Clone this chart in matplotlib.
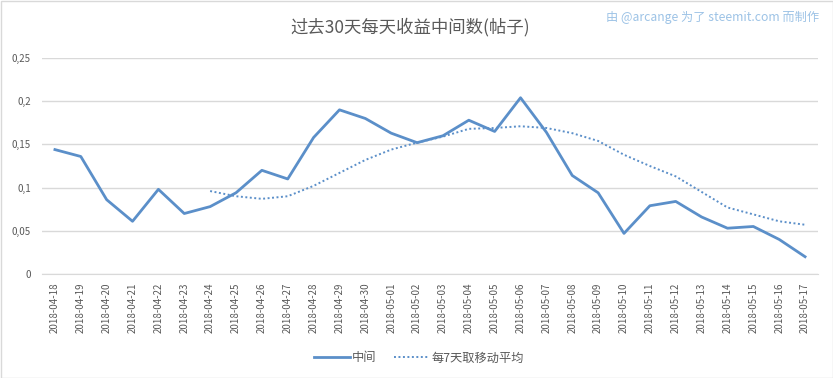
import matplotlib
matplotlib.use("Agg")
import matplotlib.pyplot as plt
from matplotlib.ticker import FixedLocator

plt.rcParams['font.family'] = ['Noto Sans CJK SC', 'DejaVu Sans']

dates = ["2018-04-18", "2018-04-19", "2018-04-20", "2018-04-21", "2018-04-22",
         "2018-04-23", "2018-04-24", "2018-04-25", "2018-04-26", "2018-04-27",
         "2018-04-28", "2018-04-29", "2018-04-30", "2018-05-01", "2018-05-02",
         "2018-05-03", "2018-05-04", "2018-05-05", "2018-05-06", "2018-05-07",
         "2018-05-08", "2018-05-09", "2018-05-10", "2018-05-11", "2018-05-12",
         "2018-05-13", "2018-05-14", "2018-05-15", "2018-05-16", "2018-05-17"]

median = [0.144, 0.136, 0.086, 0.061, 0.098, 0.070, 0.078, 0.094, 0.120, 0.110,
          0.158, 0.190, 0.180, 0.163, 0.152, 0.160, 0.178, 0.165, 0.204, 0.164,
          0.114, 0.094, 0.047, 0.079, 0.084, 0.066, 0.053, 0.055, 0.040, 0.020]

# 7-day moving average, starts at 2018-04-24 (index 6)
ma_start = 6
moving_avg = [0.096, 0.090, 0.087, 0.090, 0.102, 0.117, 0.132, 0.144, 0.152,
              0.159, 0.168, 0.169, 0.171, 0.169, 0.163, 0.154, 0.138, 0.125,
              0.113, 0.095, 0.077, 0.069, 0.061, 0.057]

yticks = [0, 0.05, 0.1, 0.15, 0.2, 0.25]
ytick_labels = ["0", "0,05", "0,1", "0,15", "0,2", "0,25"]

title = "过去30天每天收益中间数(帖子)"
watermark = "由 @arcange 为了 steemit.com 而制作"
series_names = ["中间", "每7天取移动平均"]

color = "#5B8FC9"

fig = plt.figure(figsize=(8.33, 3.78), dpi=100)
ax = fig.add_axes([42/833, 1 - 274/378, (818 - 42)/833, (274 - 58)/378])

x = list(range(len(dates)))
ax.plot(x, median, color=color, lw=2.0, label=series_names[0], solid_joinstyle="round")
ax.plot(x[ma_start:ma_start + len(moving_avg)], moving_avg, color=color, lw=1.4,
        linestyle=(0, (1, 1.3)), label=series_names[1])

ax.set_xlim(-0.5, len(dates) - 0.5)
ax.set_ylim(0, 0.25)
ax.yaxis.set_major_locator(FixedLocator(yticks))
ax.set_yticklabels(ytick_labels)
ax.set_xticks(x)
ax.set_xticklabels(dates, rotation=90)
ax.tick_params(axis='both', length=0, labelsize=7, colors="#595959")
ax.tick_params(axis='y', pad=8)
ax.tick_params(axis='x', pad=6)
ax.grid(axis='y', color="#d9d9d9", lw=1)
ax.set_axisbelow(True)
for s in ["top", "right", "left"]:
    ax.spines[s].set_visible(False)
ax.spines["bottom"].set_color("#d9d9d9")

fig.text(410/833, 1 - 27/378, title, ha="center", va="center", fontsize=12.5, color="#595959")
fig.text(819/833, 1 - 17/378, watermark, ha="right", va="center", fontsize=8.8, color="#9DC3E6")

leg = fig.legend(loc="center", bbox_to_anchor=(419/833, 1 - 358/378), ncol=2, frameon=False,
                 fontsize=8.8, handlelength=2.9, columnspacing=1.4, handletextpad=0.2)
for t in leg.get_texts():
    t.set_color("#595959")

border = plt.Rectangle((0.5/833, 0.5/378), 1 - 1/833, 1 - 1/378, transform=fig.transFigure,
                       fill=False, edgecolor="#d9d9d9", lw=1)
fig.add_artist(border)

fig.savefig("out.png", dpi=100, facecolor="white")
